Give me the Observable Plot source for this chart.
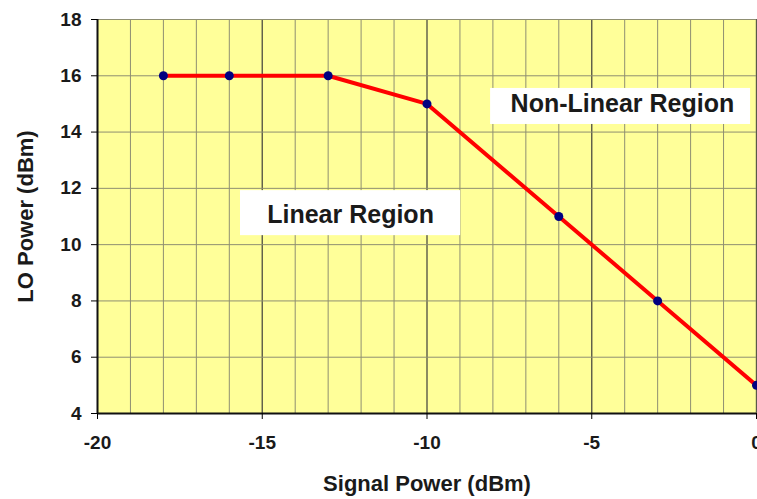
<!DOCTYPE html>
<html>
<head>
<meta charset="utf-8">
<script src="https://cdn.jsdelivr.net/npm/d3@7"></script>
<script src="https://cdn.jsdelivr.net/npm/@observablehq/plot@0.6"></script>
<style>
  html, body { margin: 0; padding: 0; background: #fff; }
  svg { display: block; }
</style>
</head>
<body>
<div id="chart"></div>
<script>
// Data
const signalPower = [-18, -16, -13, -10, -6, -3, 0];
const loPower = [16, 16, 16, 15, 11, 8, 5];

// Tick labels
const xTicks = [-20, -15, -10, -5, 0];
const yTicks = [4, 6, 8, 10, 12, 14, 16, 18];
const xMinorGrid = d3.range(-19, 1, 1).filter(v => v % 5 !== 0);
const xMajorGrid = [-15, -10, -5, 0];

// Annotations (data coordinates)
const annoText = ["Linear Region", "Non-Linear Region"];
const annoX = [-12.32, -4.07];
const annoY = [11.07, 14.98];
const boxX1 = [-15.66, -8.07];
const boxX2 = [-8.98, -0.18];
const boxY1 = [10.32, 14.27];
const boxY2 = [11.92, 15.55];

const points = signalPower.map((x, i) => ({x, y: loPower[i]}));
const annos = annoText.map((t, i) => ({t, x: annoX[i], y: annoY[i], x1: boxX1[i], x2: boxX2[i], y1: boxY1[i], y2: boxY2[i]}));

const chart = Plot.plot({
  width: 757,
  height: 499,
  marginLeft: 97,
  marginRight: 1,
  marginTop: 19,
  marginBottom: 86,
  style: {fontFamily: "'Liberation Sans', Arial, sans-serif", background: "#fff"},
  x: {domain: [-20, 0]},
  y: {domain: [4, 18]},
  marks: [
    Plot.frame({fill: "#FFFF99", stroke: null}),
    Plot.ruleX(xMinorGrid, {stroke: "#8f8f72", strokeWidth: 1}),
    Plot.ruleX(xMajorGrid, {stroke: "#5a5a48", strokeWidth: 1.4}),
    Plot.ruleY(yTicks, {stroke: "#8f8f72", strokeWidth: 1}),
    Plot.rect(annos, {x1: "x1", x2: "x2", y1: "y1", y2: "y2", fill: "white"}),
    Plot.text(annos, {x: "x", y: "y", text: "t", fontSize: 25, fontWeight: "bold", fill: "#1a1a1a", textAnchor: "middle", lineAnchor: "middle"}),
    Plot.ruleX([-20], {stroke: "#111", strokeWidth: 2}),
    Plot.ruleY([4], {stroke: "#111", strokeWidth: 2}),
    Plot.line(points, {x: "x", y: "y", stroke: "#FF0000", strokeWidth: 4}),
    Plot.dot(points, {x: "x", y: "y", r: 4.5, fill: "#000080", stroke: null}),
    Plot.axisX({ticks: xTicks, tickSize: 6, tickPadding: 16, tickFormat: d => String(d).replace("−", "-"), fontSize: 19, fontWeight: "bold", fill: "#1a1a1a", label: null}),
    Plot.axisY({ticks: yTicks, tickSize: 6, tickPadding: 10, tickFormat: d => String(d), fontSize: 19, fontWeight: "bold", fill: "#1a1a1a", label: null}),
    Plot.text(["Signal Power (dBm)"], {frameAnchor: "bottom", dy: 70, text: d => d, fontSize: 22, fontWeight: "bold", fill: "#1a1a1a", lineAnchor: "middle"}),
    Plot.text(["LO Power (dBm)"], {frameAnchor: "left", dx: -72, rotate: -90, text: d => d, fontSize: 22, fontWeight: "bold", fill: "#1a1a1a", textAnchor: "middle", lineAnchor: "middle"})
  ]
});
document.getElementById("chart").append(chart);
</script>
</body>
</html>
